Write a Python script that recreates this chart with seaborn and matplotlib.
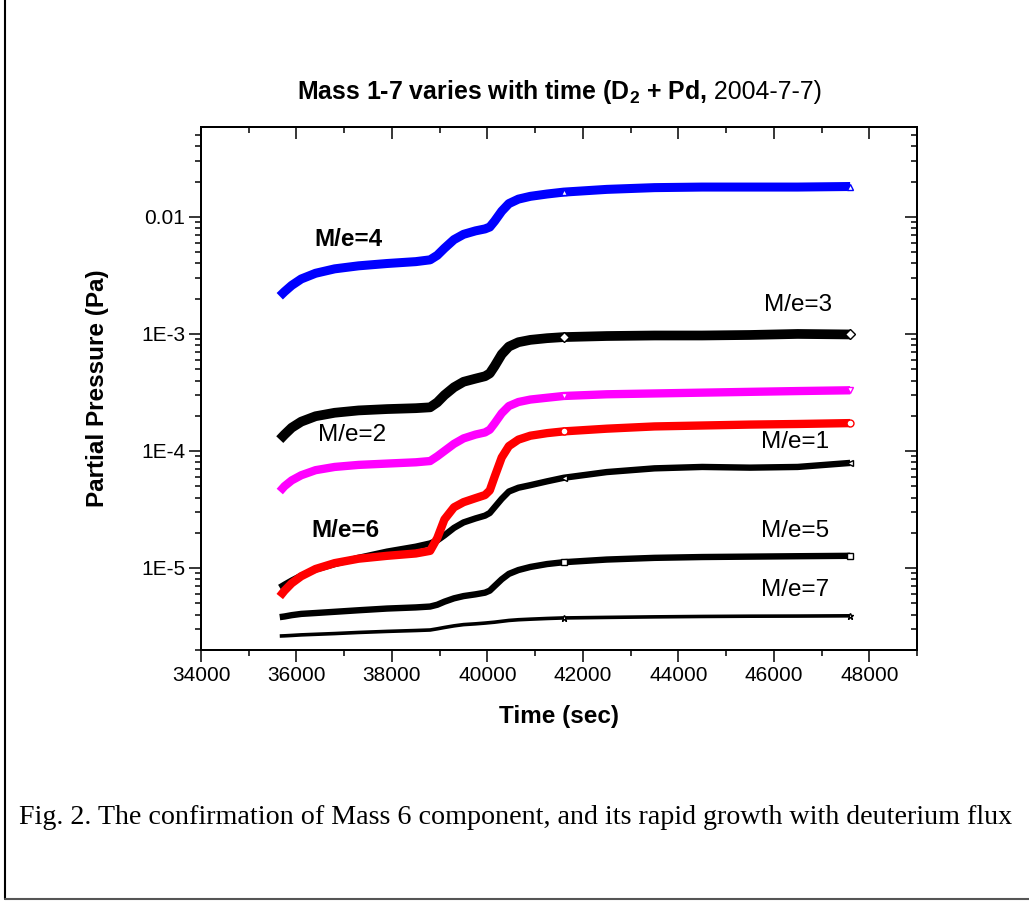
import numpy as np
import pandas as pd
import matplotlib
matplotlib.use("Agg")
import matplotlib.pyplot as plt
import seaborn as sns
from matplotlib.offsetbox import TextArea, HPacker, AnchoredOffsetbox
from matplotlib.ticker import (FixedLocator, FixedFormatter, MultipleLocator,
                               LogLocator, NullFormatter, StrMethodFormatter)
from matplotlib.lines import Line2D

# ---------------- data ----------------
time_s = [35650, 35750, 35900, 36100, 36400, 36800, 37300, 37900, 38500, 38800,
          38950, 39100, 39300, 39500, 39750, 39950, 40050, 40150, 40300, 40450,
          40650, 40900, 41250, 41600, 42500, 43500, 44500, 45500, 46500, 47600]

me4 = [2.1e-3, 2.3e-3, 2.6e-3, 2.95e-3, 3.3e-3, 3.6e-3, 3.82e-3, 4.0e-3, 4.15e-3, 4.3e-3,
       4.7e-3, 5.4e-3, 6.4e-3, 7.1e-3, 7.6e-3, 7.9e-3, 8.2e-3, 9.2e-3, 1.12e-2, 1.3e-2,
       1.42e-2, 1.5e-2, 1.57e-2, 1.63e-2, 1.72e-2, 1.78e-2, 1.8e-2, 1.8e-2, 1.8e-2, 1.82e-2]
me3 = [1.25e-4, 1.38e-4, 1.58e-4, 1.78e-4, 1.98e-4, 2.12e-4, 2.22e-4, 2.28e-4, 2.32e-4, 2.36e-4,
       2.6e-4, 3.0e-4, 3.5e-4, 3.9e-4, 4.15e-4, 4.35e-4, 4.6e-4, 5.3e-4, 6.7e-4, 7.8e-4,
       8.5e-4, 8.9e-4, 9.2e-4, 9.4e-4, 9.6e-4, 9.7e-4, 9.7e-4, 9.8e-4, 1.0e-3, 9.9e-4]
me2 = [4.5e-5, 5.0e-5, 5.6e-5, 6.2e-5, 6.85e-5, 7.3e-5, 7.6e-5, 7.8e-5, 8.0e-5, 8.2e-5,
       9.0e-5, 1.0e-4, 1.15e-4, 1.28e-4, 1.38e-4, 1.44e-4, 1.52e-4, 1.72e-4, 2.1e-4, 2.42e-4,
       2.62e-4, 2.75e-4, 2.85e-4, 2.95e-4, 3.05e-4, 3.1e-4, 3.15e-4, 3.2e-4, 3.25e-4, 3.3e-4]
me_red = [5.7e-6, 6.4e-6, 7.4e-6, 8.5e-6, 9.8e-6, 1.1e-5, 1.2e-5, 1.27e-5, 1.33e-5, 1.4e-5,
          1.8e-5, 2.6e-5, 3.3e-5, 3.65e-5, 3.95e-5, 4.2e-5, 4.6e-5, 6.0e-5, 8.8e-5, 1.1e-4,
          1.25e-4, 1.35e-4, 1.42e-4, 1.47e-4, 1.55e-4, 1.62e-4, 1.65e-4, 1.68e-4, 1.7e-4, 1.73e-4]
me_blk = [6.8e-6, 7.2e-6, 7.8e-6, 8.6e-6, 9.7e-6, 1.08e-5, 1.22e-5, 1.38e-5, 1.52e-5, 1.62e-5,
          1.72e-5, 1.9e-5, 2.2e-5, 2.45e-5, 2.65e-5, 2.8e-5, 2.95e-5, 3.3e-5, 3.9e-5, 4.5e-5,
          4.85e-5, 5.1e-5, 5.5e-5, 5.9e-5, 6.6e-5, 7.1e-5, 7.3e-5, 7.2e-5, 7.3e-5, 7.9e-5]
me5 = [3.8e-6, 3.85e-6, 3.95e-6, 4.05e-6, 4.12e-6, 4.22e-6, 4.35e-6, 4.5e-6, 4.6e-6, 4.68e-6,
       4.85e-6, 5.15e-6, 5.5e-6, 5.75e-6, 5.95e-6, 6.15e-6, 6.4e-6, 7.0e-6, 8.0e-6, 8.9e-6,
       9.6e-6, 1.02e-5, 1.08e-5, 1.12e-5, 1.18e-5, 1.22e-5, 1.24e-5, 1.25e-5, 1.26e-5, 1.27e-5]
me7 = [2.62e-6, 2.63e-6, 2.65e-6, 2.68e-6, 2.71e-6, 2.75e-6, 2.81e-6, 2.87e-6, 2.92e-6, 2.95e-6,
       3.02e-6, 3.1e-6, 3.2e-6, 3.28e-6, 3.33e-6, 3.38e-6, 3.41e-6, 3.44e-6, 3.5e-6, 3.56e-6,
       3.61e-6, 3.65e-6, 3.7e-6, 3.74e-6, 3.78e-6, 3.82e-6, 3.85e-6, 3.87e-6, 3.88e-6, 3.9e-6]

label_texts = ["M/e=4", "M/e=3", "M/e=2", "M/e=1", "M/e=6", "M/e=5", "M/e=7"]
label_bold = [True, False, False, False, True, False, False]
label_x = [37080, 46500, 37170, 46450, 37020, 46450, 46450]
label_y = [6.4e-3, 1.77e-3, 1.37e-4, 1.19e-4, 2.09e-5, 2.09e-5, 6.44e-6]

xticks = [34000, 36000, 38000, 40000, 42000, 44000, 46000, 48000]
yticks = [1e-5, 1e-4, 1e-3, 1e-2]
ytick_labels = ["1E-5", "1E-4", "1E-3", "0.01"]

# ---------------- style ----------------
sns.set_style("ticks")
plt.rcParams['font.family'] = ['Liberation Sans', 'DejaVu Sans']
plt.rcParams['mathtext.fontset'] = 'custom'
plt.rcParams['mathtext.rm'] = 'Liberation Sans'
plt.rcParams['mathtext.bf'] = 'Liberation Sans:bold'
plt.rcParams['axes.linewidth'] = 1.4
for k in ['text.color', 'axes.labelcolor', 'xtick.color', 'ytick.color', 'axes.edgecolor']:
    plt.rcParams[k] = 'black'

fig = plt.figure(figsize=(10.29, 9.01), dpi=100)
ax = fig.add_axes([201 / 1029, 1 - 650 / 901, 716 / 1029, 523 / 901])

gap_idx = time_s.index(41600)
end_idx = len(time_s) - 1
series = [
    (me7, "black", 2.6, "*"),
    (me5, "black", 4.6, "s"),
    (me_blk, "black", 4.6, "<"),
    (me_red, "red", 6.0, "o"),
    (me2, "#ff00ff", 6.0, "v"),
    (me3, "black", 7.0, "D"),
    (me4, "#0000ff", 6.5, "^"),
]
for vals, col, lw, mk in series:
    sns.lineplot(x=time_s, y=vals, ax=ax, color=col, linewidth=lw,
                 estimator=None, sort=False, solid_capstyle='butt',
                 solid_joinstyle='round',
                 marker=mk, markevery=[gap_idx, end_idx], markersize=5,
                 markerfacecolor='white', markeredgecolor=col, markeredgewidth=1.0)

ax.set_yscale('log')
ax.set_xlim(34000, 49000)
ax.set_ylim(1.99e-6, 0.0587)

ax.xaxis.set_major_locator(FixedLocator(xticks))
ax.xaxis.set_minor_locator(MultipleLocator(1000))
ax.xaxis.set_major_formatter(StrMethodFormatter('{x:.0f}'))
ax.yaxis.set_major_locator(FixedLocator(yticks))
ax.yaxis.set_major_formatter(FixedFormatter(ytick_labels))
ax.yaxis.set_minor_locator(LogLocator(base=10, subs=np.arange(2, 10)))
ax.yaxis.set_minor_formatter(NullFormatter())
ax.tick_params(which='major', direction='out', length=8.5, width=1.1,
               labelsize=15, pad=3, colors='black')
ax.tick_params(which='minor', direction='out', length=4.5, width=1.1)

# mirrored inward ticks on top and right
axt = ax.twiny()
axt.set_xlim(ax.get_xlim())
axt.xaxis.set_major_locator(FixedLocator(xticks))
axt.xaxis.set_minor_locator(MultipleLocator(1000))
axt.tick_params(which='major', direction='in', length=8.5, width=1.1, labeltop=False)
axt.tick_params(which='minor', direction='in', length=4.5, width=1.1)
axr = ax.twinx()
axr.set_yscale('log')
axr.set_ylim(ax.get_ylim())
axr.yaxis.set_major_locator(FixedLocator(yticks))
axr.yaxis.set_minor_locator(LogLocator(base=10, subs=np.arange(2, 10)))
axr.yaxis.set_minor_formatter(NullFormatter())
axr.tick_params(which='major', direction='in', length=8.5, width=1.1, labelright=False)
axr.tick_params(which='minor', direction='in', length=4.5, width=1.1)
for a in (axt, axr):
    a.set_xlabel("")
    a.set_ylabel("")

ax.set_xlabel("Time (sec)", fontsize=17.5, fontweight='bold')
ax.set_ylabel("Partial Pressure (Pa)", fontsize=17.5, fontweight='bold')
ax.xaxis.set_label_coords(0.5, -0.105)
ax.yaxis.set_label_coords(-0.128, 0.5)

for txt, b, lx, ly in zip(label_texts, label_bold, label_x, label_y):
    ax.text(lx, ly, txt, fontsize=17.5, fontweight='bold' if b else 'normal',
            ha='center', va='center', color='black')

# title with mixed weights
t1 = TextArea(r"Mass 1-7 varies with time (D$_\mathbf{2}$ + Pd,",
              textprops=dict(fontsize=17.9, fontweight='bold', color='black'))
t2 = TextArea(" 2004-7-7)", textprops=dict(fontsize=17.9, color='black'))
box = HPacker(children=[t1, t2], align="baseline", pad=0, sep=0)
anch = AnchoredOffsetbox(loc='lower center', child=box, pad=0, borderpad=0,
                         frameon=False, bbox_to_anchor=(0.5, 1.04),
                         bbox_transform=ax.transAxes)
ax.add_artist(anch)

# caption
fig.text(516 / 1029, 1 - 818 / 901,
         "Fig. 2. The confirmation of Mass 6 component, and its rapid growth with deuterium flux",
         fontsize=20.2, family=['Liberation Serif', 'DejaVu Serif'], ha='center', va='center',
         color='black')

# page frame lines (left and bottom)
fig.add_artist(Line2D([5 / 1029, 5 / 1029], [2 / 901, 1], transform=fig.transFigure,
                      color='black', lw=1.5))
fig.add_artist(Line2D([5 / 1029, 1], [2 / 901, 2 / 901], transform=fig.transFigure,
                      color='#555555', lw=1.5))

fig.savefig("out.png", dpi=100)
